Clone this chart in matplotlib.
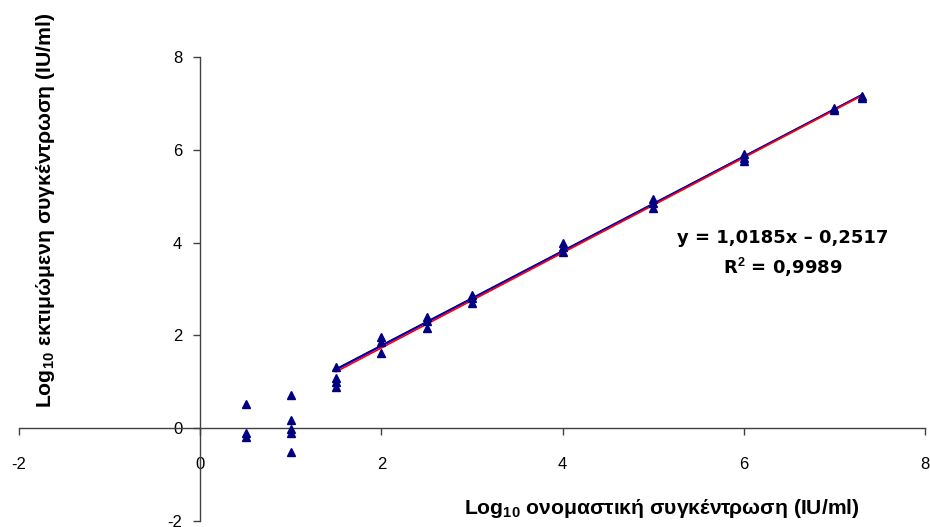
import numpy as np
import matplotlib.pyplot as plt

# nominal log10 concentration and measured replicates
x_nominal = [0.5, 0.5, 0.5,
             1.0, 1.0, 1.0, 1.0, 1.0,
             1.5, 1.5, 1.5, 1.5,
             2.0, 2.0, 2.0,
             2.5, 2.5, 2.5,
             3.0, 3.0, 3.0,
             4.0, 4.0, 4.0,
             5.0, 5.0, 5.0,
             6.0, 6.0, 6.0,
             7.0, 7.0,
             7.3, 7.3]
y_measured = [0.53, -0.10, -0.18,
              0.72, 0.17, -0.02, -0.11, -0.51,
              1.31, 1.08, 1.00, 0.88,
              1.96, 1.86, 1.63,
              2.40, 2.30, 2.16,
              2.88, 2.80, 2.70,
              4.00, 3.90, 3.80,
              4.95, 4.85, 4.75,
              5.92, 5.82, 5.75,
              6.90, 6.86,
              7.16, 7.12]

# trend lines drawn over the linear range (slope, intercept)
fit_black = (1.0185, -0.2517)
fit_blue = (1.021, -0.275)
fit_red = (1.025, -0.32)
fit_range = [1.5, 7.3]

equation_text = "y = 1,0185x \u2013 0,2517"
r2_text = "R$^2$ = 0,9989"
xlabel_text = "Log$_{10}$ ονομαστική συγκέντρωση (IU/ml)"
ylabel_text = "Log$_{10}$ εκτιμώμενη συγκέντρωση (IU/ml)"

plt.rcParams['font.family'] = ['Liberation Sans', 'DejaVu Sans']
plt.rcParams['axes.unicode_minus'] = False
plt.rcParams['mathtext.fontset'] = 'custom'
plt.rcParams['mathtext.rm'] = 'Liberation Sans:bold'
plt.rcParams['mathtext.it'] = 'Liberation Sans:bold'
plt.rcParams['mathtext.bf'] = 'Liberation Sans:bold'

fig = plt.figure(figsize=(9.3, 5.27), dpi=100)
ax = fig.add_axes([19 / 930, 6 / 527, 906 / 930, 464 / 527])

ax.set_xlim(-2, 8)
ax.set_ylim(-2, 8)
ax.spines['left'].set_position(('data', 0))
ax.spines['bottom'].set_position(('data', 0))
ax.spines['top'].set_visible(False)
ax.spines['right'].set_visible(False)
for s in ('left', 'bottom'):
    ax.spines[s].set_color('#404040')
    ax.spines[s].set_linewidth(1.0)

ax.set_xticks(np.arange(-2, 9, 2))
ax.set_yticks(np.arange(-2, 9, 2))
ax.tick_params(axis='both', direction='out', length=5, width=1.0,
               color='#404040', labelsize=12)
ax.tick_params(axis='x', pad=16)
ax.tick_params(axis='y', pad=8)

xs = np.array(fit_range)
for (m, b), col in [(fit_black, 'black'), (fit_blue, 'blue'), (fit_red, 'red')]:
    ax.plot(xs, m * xs + b, color=col, lw=1.2, zorder=3)

ax.plot(x_nominal, y_measured, linestyle='none', marker='^', markersize=6,
        color='#000080', zorder=4, clip_on=False)

ax.text(783, 527 - 238, equation_text, transform=None, ha='center', va='center',
        fontsize=13, fontweight='bold', family=['DejaVu Sans'])
ax.text(783, 527 - 267, r2_text, transform=None, ha='center', va='center',
        fontsize=13, fontweight='bold', family=['DejaVu Sans'])

fig.text(662 / 930, 1 - 508 / 527, xlabel_text,
         ha='center', va='center', fontsize=15.2, fontweight='bold')
fig.text(46 / 930, 1 - 210 / 527, ylabel_text,
         ha='center', va='center', rotation=90, fontsize=15.3, fontweight='bold')

fig.savefig('out.png', dpi=100)
